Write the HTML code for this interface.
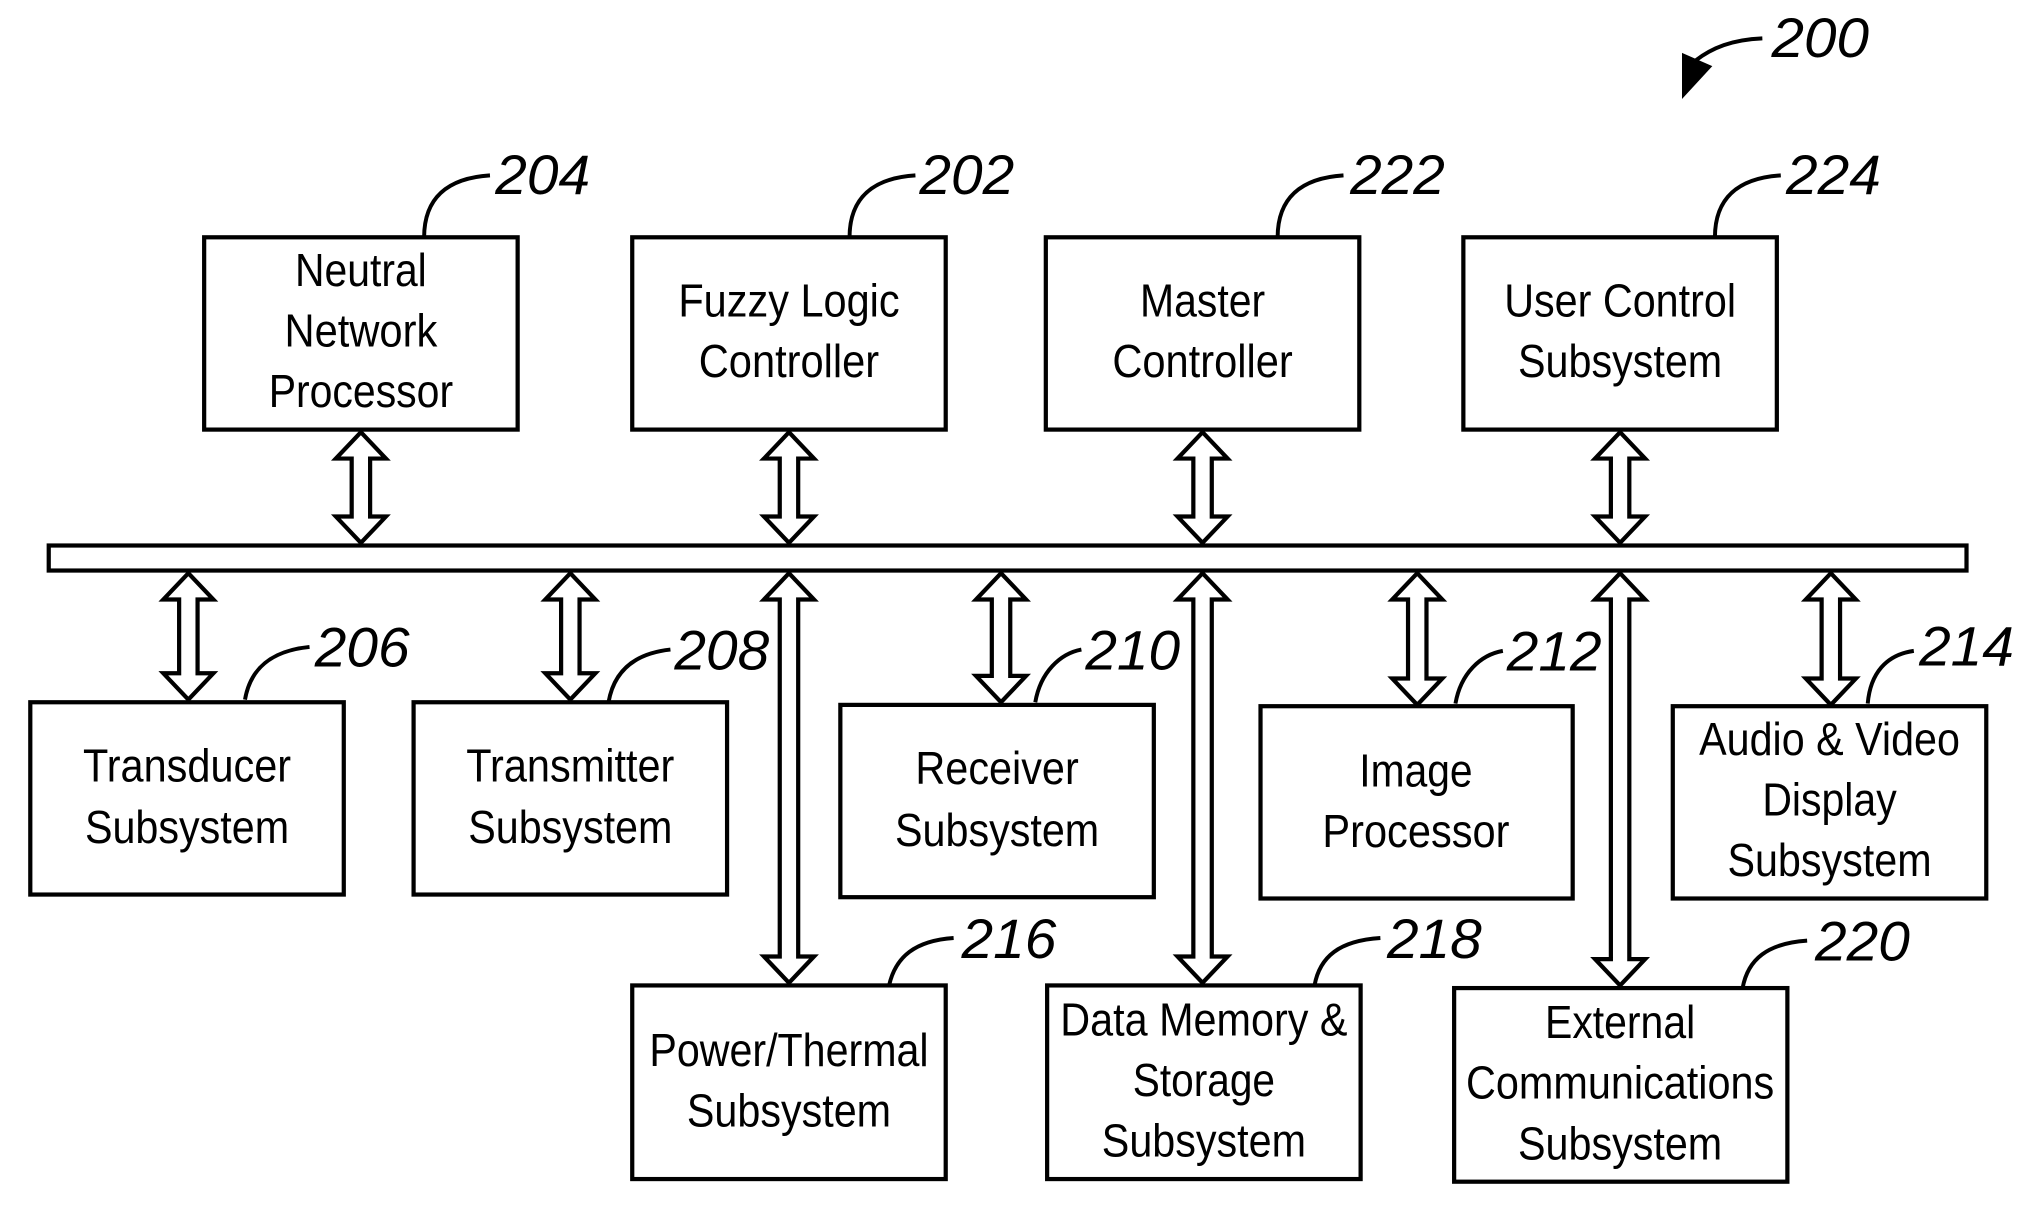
<!DOCTYPE html>
<html><head><meta charset="utf-8"><style>
html,body{margin:0;padding:0;background:#fff;}
svg{display:block;}
.b{fill:#fff;stroke:#000;stroke-width:3.2;}
.a{fill:#fff;stroke:#000;stroke-width:3.2;stroke-linejoin:miter;}
.l{fill:none;stroke:#000;stroke-width:3;}
.t{font-family:"Liberation Sans",sans-serif;font-size:35px;text-anchor:middle;fill:#000;}
.n{font-family:"Liberation Sans",sans-serif;font-size:42px;font-style:italic;fill:#000;}
</style></head><body>
<svg width="2035" height="1228" viewBox="0 0 1545 932" xmlns="http://www.w3.org/2000/svg">
<!-- 200 -->
<text class="n" x="1345" y="43" textLength="74" lengthAdjust="spacingAndGlyphs">200</text>
<path class="l" d="M1338,29 C1315,30 1300,36 1287,46" stroke-width="4"/>
<polygon points="1277,75 1277,40 1300,50" fill="#000"/>

<!-- top boxes -->
<rect class="b" x="155" y="180" width="238" height="146"/>
<text class="t" x="274" y="217" textLength="100" lengthAdjust="spacingAndGlyphs">Neutral</text>
<text class="t" x="274" y="263" textLength="116" lengthAdjust="spacingAndGlyphs">Network</text>
<text class="t" x="274" y="309" textLength="140" lengthAdjust="spacingAndGlyphs">Processor</text>
<path class="l" d="M322,180 C322,150 340,135 372,133"/>
<text class="n" x="376" y="147" textLength="72" lengthAdjust="spacingAndGlyphs">204</text>

<rect class="b" x="480" y="180" width="238" height="146"/>
<text class="t" x="599" y="240" textLength="168" lengthAdjust="spacingAndGlyphs">Fuzzy Logic</text>
<text class="t" x="599" y="286" textLength="137" lengthAdjust="spacingAndGlyphs">Controller</text>
<path class="l" d="M645,180 C645,150 663,135 695,133"/>
<text class="n" x="698" y="147" textLength="72" lengthAdjust="spacingAndGlyphs">202</text>

<rect class="b" x="794" y="180" width="238" height="146"/>
<text class="t" x="913" y="240" textLength="95" lengthAdjust="spacingAndGlyphs">Master</text>
<text class="t" x="913" y="286" textLength="137" lengthAdjust="spacingAndGlyphs">Controller</text>
<path class="l" d="M970,180 C970,150 988,135 1020,133"/>
<text class="n" x="1025" y="147" textLength="72" lengthAdjust="spacingAndGlyphs">222</text>

<rect class="b" x="1111" y="180" width="238" height="146"/>
<text class="t" x="1230" y="240" textLength="176" lengthAdjust="spacingAndGlyphs">User Control</text>
<text class="t" x="1230" y="286" textLength="155" lengthAdjust="spacingAndGlyphs">Subsystem</text>
<path class="l" d="M1302,180 C1302,150 1320,135 1352,133"/>
<text class="n" x="1356" y="147" textLength="72" lengthAdjust="spacingAndGlyphs">224</text>

<!-- bus -->
<rect class="b" x="37" y="414" width="1456" height="19"/>

<!-- arrows top -->
<polygon class="a" points="274,328 255,348 267,348 267,392 255,392 274,412 293,392 281,392 281,348 293,348"/>
<polygon class="a" points="599,328 580,348 592,348 592,392 580,392 599,412 618,392 606,392 606,348 618,348"/>
<polygon class="a" points="913,328 894,348 906,348 906,392 894,392 913,412 932,392 920,392 920,348 932,348"/>
<polygon class="a" points="1230,328 1211,348 1223,348 1223,392 1211,392 1230,412 1249,392 1237,392 1237,348 1249,348"/>
<!-- arrows bottom -->
<polygon class="a" points="143,435 124,455 136,455 136,511 124,511 143,531 162,511 150,511 150,455 162,455"/>
<polygon class="a" points="433,435 414,455 426,455 426,511 414,511 433,531 452,511 440,511 440,455 452,455"/>
<polygon class="a" points="599,435 580,455 592,455 592,726 580,726 599,746 618,726 606,726 606,455 618,455"/>
<polygon class="a" points="760,435 741,455 753,455 753,513 741,513 760,533 779,513 767,513 767,455 779,455"/>
<polygon class="a" points="913,435 894,455 906,455 906,726 894,726 913,746 932,726 920,726 920,455 932,455"/>
<polygon class="a" points="1076,435 1057,455 1069,455 1069,515 1057,515 1076,535 1095,515 1083,515 1083,455 1095,455"/>
<polygon class="a" points="1230,435 1211,455 1223,455 1223,728 1211,728 1230,748 1249,728 1237,728 1237,455 1249,455"/>
<polygon class="a" points="1390,435 1371,455 1383,455 1383,515 1371,515 1390,535 1409,515 1397,515 1397,455 1409,455"/>

<!-- bottom row -->
<rect class="b" x="23" y="533" width="238" height="146"/>
<text class="t" x="142" y="593" textLength="158" lengthAdjust="spacingAndGlyphs">Transducer</text>
<text class="t" x="142" y="640" textLength="155" lengthAdjust="spacingAndGlyphs">Subsystem</text>
<path class="l" d="M186,531 C190,508 205,494 235,491"/>
<text class="n" x="239" y="506" textLength="72" lengthAdjust="spacingAndGlyphs">206</text>

<rect class="b" x="314" y="533" width="238" height="146"/>
<text class="t" x="433" y="593" textLength="158" lengthAdjust="spacingAndGlyphs">Transmitter</text>
<text class="t" x="433" y="640" textLength="155" lengthAdjust="spacingAndGlyphs">Subsystem</text>
<path class="l" d="M462,533 C466,510 481,496 509,493"/>
<text class="n" x="512" y="508" textLength="72" lengthAdjust="spacingAndGlyphs">208</text>

<rect class="b" x="638" y="535" width="238" height="146"/>
<text class="t" x="757" y="595" textLength="124" lengthAdjust="spacingAndGlyphs">Receiver</text>
<text class="t" x="757" y="642" textLength="155" lengthAdjust="spacingAndGlyphs">Subsystem</text>
<path class="l" d="M786,533 C790,510 805,496 821,493"/>
<text class="n" x="824" y="508" textLength="72" lengthAdjust="spacingAndGlyphs">210</text>

<rect class="b" x="957" y="536" width="237" height="146"/>
<text class="t" x="1075" y="597" textLength="86" lengthAdjust="spacingAndGlyphs">Image</text>
<text class="t" x="1075" y="643" textLength="142" lengthAdjust="spacingAndGlyphs">Processor</text>
<path class="l" d="M1105,534 C1109,511 1124,497 1141,494"/>
<text class="n" x="1144" y="509" textLength="72" lengthAdjust="spacingAndGlyphs">212</text>

<rect class="b" x="1270" y="536" width="238" height="146"/>
<text class="t" x="1389" y="573" textLength="198" lengthAdjust="spacingAndGlyphs">Audio &amp; Video</text>
<text class="t" x="1389" y="619" textLength="102" lengthAdjust="spacingAndGlyphs">Display</text>
<text class="t" x="1389" y="665" textLength="155" lengthAdjust="spacingAndGlyphs">Subsystem</text>
<path class="l" d="M1418,534 C1420,511 1432,497 1453,494"/>
<text class="n" x="1457" y="505" textLength="72" lengthAdjust="spacingAndGlyphs">214</text>

<rect class="b" x="480" y="748" width="238" height="147"/>
<text class="t" x="599" y="809" textLength="212" lengthAdjust="spacingAndGlyphs">Power/Thermal</text>
<text class="t" x="599" y="855" textLength="155" lengthAdjust="spacingAndGlyphs">Subsystem</text>
<path class="l" d="M675,748 C680,726 695,714 724,712"/>
<text class="n" x="730" y="727" textLength="72" lengthAdjust="spacingAndGlyphs">216</text>

<rect class="b" x="795" y="748" width="238" height="147"/>
<text class="t" x="914" y="786" textLength="218" lengthAdjust="spacingAndGlyphs">Data Memory &amp;</text>
<text class="t" x="914" y="832" textLength="108" lengthAdjust="spacingAndGlyphs">Storage</text>
<text class="t" x="914" y="878" textLength="155" lengthAdjust="spacingAndGlyphs">Subsystem</text>
<path class="l" d="M998,748 C1002,726 1017,714 1048,712"/>
<text class="n" x="1053" y="727" textLength="72" lengthAdjust="spacingAndGlyphs">218</text>

<rect class="b" x="1104" y="750" width="253" height="147"/>
<text class="t" x="1230" y="788" textLength="114" lengthAdjust="spacingAndGlyphs">External</text>
<text class="t" x="1230" y="834" textLength="234" lengthAdjust="spacingAndGlyphs">Communications</text>
<text class="t" x="1230" y="880" textLength="155" lengthAdjust="spacingAndGlyphs">Subsystem</text>
<path class="l" d="M1323,750 C1327,728 1342,716 1372,714"/>
<text class="n" x="1378" y="729" textLength="72" lengthAdjust="spacingAndGlyphs">220</text>
</svg>
</body></html>
